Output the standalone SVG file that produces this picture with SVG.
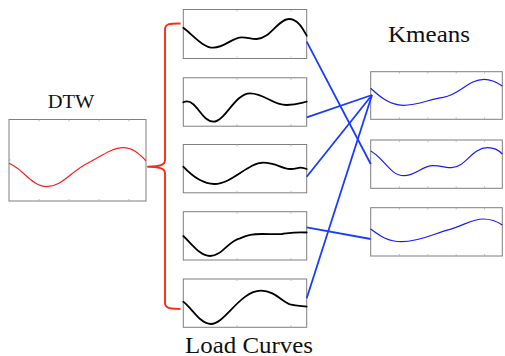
<svg xmlns="http://www.w3.org/2000/svg" width="505" height="356" viewBox="0 0 505 356">
<style>
.frame{fill:#fff;stroke:#7f7f7f;stroke-width:1}
.tick{stroke:#b0b0b0;stroke-width:0.8}
.lc{fill:none;stroke:#000;stroke-width:1.8;stroke-linejoin:round;stroke-linecap:round}
.km{fill:none;stroke:#1a1aff;stroke-width:1.2}
.dtw{fill:none;stroke:#ff1a1a;stroke-width:1.2}
.link{stroke:#1a3cff;stroke-width:1.8;fill:none}
.brace{fill:none;stroke:#ff2a14;stroke-width:1.9;stroke-linejoin:round}
.lbl{font-family:"Liberation Serif","DejaVu Serif",serif;fill:#111}
</style>
<rect width="505" height="356" fill="#fff"/>

<g id="dtw">
<rect class="frame" x="9" y="119.5" width="137" height="81.5"/>
<path class="tick" d="M39,119.5v2M69,119.5v2M99,119.5v2M129,119.5v2M39,201v-2M69,201v-2M99,201v-2M129,201v-2M9,160h2M146,160h-2"/>
<path class="dtw" d="M9,163.3 C22,168 32,186.7 46.7,186.7 C62,186.7 70,172 88,163 C100,157 112,147.7 123,147.7 C134,147.7 140,155 146,160.7"/>
<text class="lbl" x="71" y="108" font-size="18.6" text-anchor="middle" textLength="46.6" lengthAdjust="spacingAndGlyphs">DTW</text>
</g>

<g id="brace">
<path class="brace" d="M180.5,23.5 C172,23.5 165,23 165,29.5 L165,160 C165,165 160,166.7 148,166.7 C160,166.7 165,168.5 165,173 L165,303 C165,309 172,308.5 180.5,309"/>
</g>

<g id="lc1">
<rect class="frame" x="183.3" y="9.5" width="123.4" height="49"/>
<path class="tick" d="M237,9.5v2M291,9.5v2M237,58.5v-2M291,58.5v-2"/>
<path class="lc" d="M183.3,27.7 C193,35 203,47.7 213.3,47.7 C225,47.7 232,37.3 241.7,37.3 C248,37.3 250,39 256.7,39 C270,39 278,19 289,19 C298,19 303,29 306.7,35.7"/>
</g>
<g id="lc2">
<rect class="frame" x="183.3" y="77.8" width="123.4" height="48.4"/>
<path class="tick" d="M237,77.8v2M291,77.8v2M237,126.2v-2M291,126.2v-2"/>
<path class="lc" d="M183.3,102.3 C186,101 189,100.5 193,104 C200,110 205,121.7 213.3,121.7 C225,121.7 235,93.3 250,93.3 C265,93.3 272,105 286.7,105 C296,105 301,103 306.7,101.7"/>
</g>
<g id="lc3">
<rect class="frame" x="183.3" y="144.5" width="123.4" height="48.3"/>
<path class="tick" d="M237,144.5v2M291,144.5v2M237,192.8v-2M291,192.8v-2"/>
<path class="lc" d="M183.3,166.7 C192,176 203,184 214.3,184 C232,184 248,162.7 263.3,162.7 C276,162.7 282,169 290,169 C296,169 298,167.7 300,167.7 C303,167.7 305,168.5 306.7,169"/>
</g>
<g id="lc4">
<rect class="frame" x="183.3" y="211.7" width="123.4" height="48.3"/>
<path class="tick" d="M237,211.7v2M291,211.7v2M237,260v-2M291,260v-2"/>
<path class="lc" d="M183.3,236 C192,244 200,256 210,256 C222,256 228,241 240,238.3 C248,235 252,234 262,234 C272,234 276,234.3 282,234 C290,233 296,231.7 306.7,232.5"/>
</g>
<g id="lc5">
<rect class="frame" x="183.3" y="279" width="123.4" height="48.3"/>
<path class="tick" d="M237,279v2M291,279v2M237,327.3v-2M291,327.3v-2"/>
<path class="lc" d="M183.3,301.7 C192,308 200,324 211,324 C225,324 240,290.7 261,290.7 C275,290.7 282,302 290,304.3 C297,306 302,306 306.7,306.7"/>
</g>
<text class="lbl" x="249" y="352.5" font-size="22.5" text-anchor="middle" textLength="128" lengthAdjust="spacingAndGlyphs">Load Curves</text>

<g id="km1">
<rect class="frame" x="370.7" y="71.7" width="131.6" height="47.6"/>
<path class="tick" d="M399.4,71.7v2M427.8,71.7v2M456.2,71.7v2M484.6,71.7v2M399.4,119.3v-2M427.8,119.3v-2M456.2,119.3v-2M484.6,119.3v-2"/>
<path class="km" d="M370.7,88.3 C380,97 390,105.3 403.3,105.3 C418,105.3 430,99 443.3,97.3 C460,95 468,79.3 484.3,79.3 C493,79.3 498,83 502.3,86"/>
</g>
<g id="km2">
<rect class="frame" x="370.7" y="140" width="131.6" height="48.3"/>
<path class="tick" d="M399.4,140v2M427.8,140v2M456.2,140v2M484.6,140v2M399.4,188.3v-2M427.8,188.3v-2M456.2,188.3v-2M484.6,188.3v-2"/>
<path class="km" d="M370.7,151 C384,158 390,175.7 404,175.7 C416,175.7 422,165.7 432.7,165.7 C442,165.7 445,167.7 451.7,167.7 C465,167.7 472,147.7 487.7,147.7 C495,147.7 499,150.5 502.3,154"/>
</g>
<g id="km3">
<rect class="frame" x="370.7" y="207.7" width="131.6" height="48.3"/>
<path class="tick" d="M399.4,207.7v2M427.8,207.7v2M456.2,207.7v2M484.6,207.7v2M399.4,256v-2M427.8,256v-2M456.2,256v-2M484.6,256v-2"/>
<path class="km" d="M370.7,229 C380,236 388,241.7 401.7,241.7 C420,241.7 435,233 450,229.3 C465,225 472,219 483.3,219 C492,219 498,222 502.3,225"/>
</g>
<text class="lbl" x="429" y="41.7" font-size="23.5" text-anchor="middle" textLength="82" lengthAdjust="spacingAndGlyphs">Kmeans</text>

<g id="connectors">
<path class="link" d="M306.7,41.7 L370.7,164"/>
<path class="link" d="M306.7,117.3 L372,95"/>
<path class="link" d="M306.7,176.7 L372,95"/>
<path class="link" d="M306.7,227.3 L370.7,239"/>
<path class="link" d="M306.7,298.3 L372,95"/>
</g>
</svg>
